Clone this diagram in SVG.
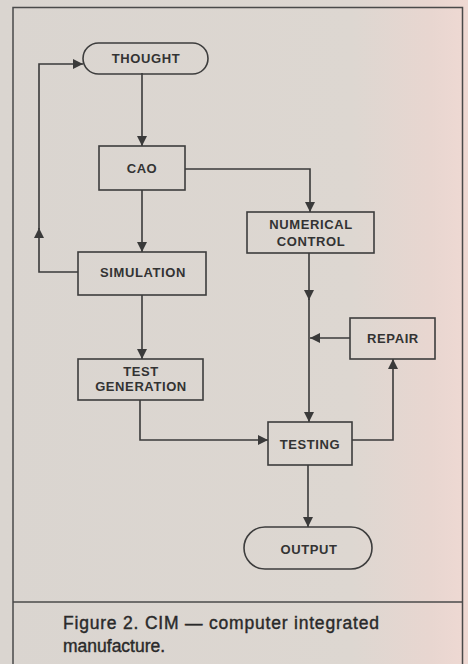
<svg xmlns="http://www.w3.org/2000/svg" width="468" height="664" viewBox="0 0 468 664">
<defs>
<linearGradient id="bg" x1="0" y1="0" x2="1" y2="0">
<stop offset="0" stop-color="#dad5d0"/>
<stop offset="0.75" stop-color="#ddd7d1"/>
<stop offset="0.92" stop-color="#e8d6d0"/>
<stop offset="1" stop-color="#efd9d3"/>
</linearGradient>
<marker id="ah" viewBox="0 0 10 10" refX="10" refY="5" markerWidth="11" markerHeight="10" markerUnits="userSpaceOnUse" orient="auto">
<path d="M0,0 L10,5 L0,10 z" fill="#3a3a3a"/>
</marker>
</defs>
<style>
.box{fill:none;stroke:#3d3d3d;stroke-width:1.6}
.lbl{font-family:"Liberation Sans",Arial,sans-serif;font-weight:bold;font-size:13px;fill:#333;text-anchor:middle;letter-spacing:0.6px}
.ln{fill:none;stroke:#3a3a3a;stroke-width:1.6}
.cap{font-family:"Liberation Sans",Arial,sans-serif;font-size:17.5px;fill:#2a2a2a;stroke:#2a2a2a;stroke-width:0.4}
</style>
<rect x="0" y="0" width="468" height="664" fill="url(#bg)"/>
<rect x="13" y="7.5" width="449.5" height="670" fill="none" stroke="#4a4a4a" stroke-width="1.5"/>
<line x1="13" y1="602" x2="462.5" y2="602" stroke="#4a4a4a" stroke-width="1.5"/>

<g id="connectors">
<line class="ln" x1="142" y1="73" x2="142" y2="146" marker-end="url(#ah)"/>
<line class="ln" x1="142" y1="190" x2="142" y2="252" marker-end="url(#ah)"/>
<polyline class="ln" points="185,169 310,169 310,212" marker-end="url(#ah)"/>
<polyline class="ln" points="78,272 39,272 39,228" marker-end="url(#ah)"/>
<polyline class="ln" points="39,229 39,64 83,64" marker-end="url(#ah)"/>
<line class="ln" x1="142" y1="295" x2="142" y2="359" marker-end="url(#ah)"/>
<polyline class="ln" points="140,400 140,440 268,440" marker-end="url(#ah)"/>
<line class="ln" x1="309" y1="253" x2="309" y2="300" marker-end="url(#ah)"/>
<line class="ln" x1="309" y1="299" x2="309" y2="422" marker-end="url(#ah)"/>
<line class="ln" x1="350" y1="338" x2="310" y2="338" marker-end="url(#ah)"/>
<polyline class="ln" points="352,440 393,440 393,359" marker-end="url(#ah)"/>
<line class="ln" x1="308" y1="465" x2="308" y2="527" marker-end="url(#ah)"/>
</g>

<g id="thought">
<rect class="box" x="83" y="43" width="125" height="31" rx="15.5"/>
<text class="lbl" x="146" y="63">THOUGHT</text>
</g>
<g id="cad">
<rect class="box" x="99" y="146" width="86" height="44"/>
<text class="lbl" x="142" y="173">CAO</text>
</g>
<g id="numerical-control">
<rect class="box" x="247" y="212" width="127" height="41"/>
<text class="lbl" x="311" y="229">NUMERICAL</text>
<text class="lbl" x="311" y="246">CONTROL</text>
</g>
<g id="simulation">
<rect class="box" x="78" y="252" width="128" height="43"/>
<text class="lbl" x="143" y="277">SIMULATION</text>
</g>
<g id="test-generation">
<rect class="box" x="78" y="359" width="125" height="41"/>
<text class="lbl" x="141" y="376">TEST</text>
<text class="lbl" x="141" y="391">GENERATION</text>
</g>
<g id="repair">
<rect class="box" x="350" y="318" width="85" height="41"/>
<text class="lbl" x="393" y="343">REPAIR</text>
</g>
<g id="testing">
<rect class="box" x="268" y="422" width="84" height="43"/>
<text class="lbl" x="310" y="449">TESTING</text>
</g>
<g id="output">
<rect class="box" x="244" y="527" width="128" height="42" rx="21"/>
<text class="lbl" x="309" y="554">OUTPUT</text>
</g>

<text class="cap" x="63" y="629" textLength="316" lengthAdjust="spacing">Figure 2. CIM — computer integrated</text>
<text class="cap" x="63" y="652">manufacture.</text>
</svg>
